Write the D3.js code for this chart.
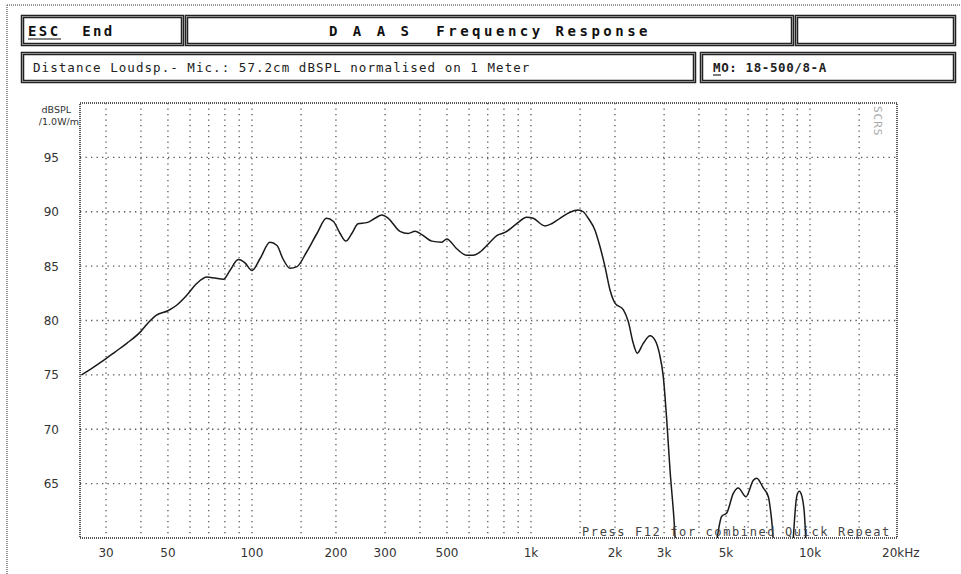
<!DOCTYPE html>
<html>
<head>
<meta charset="utf-8">
<script src="https://cdn.jsdelivr.net/npm/d3@7"></script>
<style>
  body { margin: 0; background: #fff; }
  svg text { white-space: pre; }
</style>
</head>
<body>
<div id="chart"></div>
<script>
const freqs = [24.5, 27, 30, 32.3, 35.6, 40, 42.5, 45.5, 50, 53.7, 58.3, 63.4, 69, 73.7, 79, 83.4, 89.3, 94.4, 100,
  107, 116, 123, 129, 137, 145, 157, 171, 185, 196, 207, 217, 228, 240, 258, 276, 292, 308, 339, 363, 384, 406,
  441, 479, 499, 542, 588, 621, 657, 713, 754, 807, 889, 965, 1019, 1122, 1186, 1270, 1380, 1477, 1540, 1605,
  1696, 1767, 1842, 1920, 2000, 2142, 2232, 2326, 2404, 2526, 2671, 2783, 2884, 2981, 3065, 3149, 3236, 3370,
  4400, 4827, 5030, 5310, 5534, 5896, 6264, 6442, 6800, 7090, 7290, 7550, 8480, 8960, 9150, 9340, 9520, 9840, 20500];
const spl = [75.0, 75.7, 76.5, 77.1, 77.9, 79.0, 79.8, 80.5, 80.9, 81.4, 82.3, 83.4, 84.0, 83.9, 83.8, 84.6, 85.6, 85.3, 84.6,
  85.7, 87.2, 86.9, 85.7, 84.8, 84.95, 86.3, 88.0, 89.4, 89.1, 88.0, 87.3, 88.0, 88.9, 89.0, 89.4, 89.7, 89.4, 88.2, 88.0, 88.2, 87.9,
  87.3, 87.2, 87.5, 86.6, 86.0, 86.0, 86.3, 87.2, 87.8, 88.1, 88.9, 89.5, 89.4, 88.7, 88.9, 89.4, 89.95, 90.16, 90.0, 89.4,
  88.3, 86.8, 84.95, 82.8, 81.6, 81.0, 79.9, 77.9, 77.0, 77.9, 78.6, 78.2, 77.0, 74.8, 70.9, 66.3, 62.6, 57,
  57, 62.0, 62.3, 64.1, 64.6, 63.8, 65.3, 65.5, 64.6, 63.8, 61.6, 57, 57, 63.8, 64.3, 63.9, 62.6, 57, 57];

const gridFreqs = [30, 40, 50, 60, 70, 80, 90, 100, 150, 200, 300, 400, 500, 600, 700, 800, 900,
  1000, 1500, 2000, 3000, 4000, 5000, 6000, 7000, 8000, 9000, 10000, 15000];
const xTicks = [30, 50, 100, 200, 300, 500, 1000, 2000, 3000, 5000, 10000, 20000];
const xTickLabels = ["30", "50", "100", "200", "300", "500", "1k", "2k", "3k", "5k", "10k", "20kHz"];
const yTicks = [65, 70, 75, 80, 85, 90, 95];

const W = 961, H = 574;
const mono = "'DejaVu Sans Mono', 'Liberation Mono', monospace";

const svg = d3.select("#chart").append("svg")
  .attr("width", W).attr("height", H);

// outer dotted frame
svg.append("line").attr("x1", 7).attr("x2", W).attr("y1", 5).attr("y2", 5)
  .attr("stroke", "#777").attr("stroke-width", 1.5).attr("stroke-dasharray", "1,1");
svg.append("line").attr("x1", 7).attr("x2", 7).attr("y1", 5).attr("y2", H)
  .attr("stroke", "#777").attr("stroke-width", 1.5).attr("stroke-dasharray", "1,1");

// header boxes with double border
function box(x0, y0, x1, y1) {
  svg.append("rect").attr("x", x0 + 1.5).attr("y", y0 + 1.5)
    .attr("width", x1 - x0 - 3).attr("height", y1 - y0 - 3)
    .attr("fill", "#fff").attr("stroke", "#222").attr("stroke-width", 3.5);
  svg.append("rect").attr("x", x0 + 1.5).attr("y", y0 + 1.5)
    .attr("width", x1 - x0 - 3).attr("height", y1 - y0 - 3)
    .attr("fill", "none").attr("stroke", "#aaa").attr("stroke-width", 0.8);
}
box(21, 15, 184, 46);
box(185, 15, 794, 46);
box(795, 15, 956, 46);
box(21, 52, 696, 83);
box(700, 52, 956, 83);

svg.append("text").attr("x", 28).attr("y", 36)
  .attr("font-family", mono).attr("font-weight", "bold").attr("font-size", 14)
  .attr("letter-spacing", 2.4).attr("fill", "#111")
  .text("ESC  End");
svg.append("line").attr("x1", 28).attr("x2", 61).attr("y1", 39).attr("y2", 39)
  .attr("stroke", "#111").attr("stroke-width", 1.2);

svg.append("text").attr("x", 490).attr("y", 36).attr("text-anchor", "middle")
  .attr("font-family", mono).attr("font-weight", "bold").attr("font-size", 14)
  .attr("letter-spacing", 3.5).attr("fill", "#111")
  .text("D A A S  Frequency Response");

svg.append("text").attr("x", 33).attr("y", 72)
  .attr("font-family", mono).attr("font-size", 12.5)
  .attr("letter-spacing", 1.05).attr("fill", "#222")
  .text("Distance Loudsp.- Mic.: 57.2cm dBSPL normalised on 1 Meter");

svg.append("text").attr("x", 713).attr("y", 72)
  .attr("font-family", mono).attr("font-weight", "bold").attr("font-size", 12.5)
  .attr("letter-spacing", 0.6).attr("fill", "#222")
  .text("MO: 18-500/8-A");
svg.append("line").attr("x1", 713).attr("x2", 721).attr("y1", 75).attr("y2", 75)
  .attr("stroke", "#222").attr("stroke-width", 1.2);

// plot area
const pL = 80, pR = 897, pT = 103, pB = 538;
const x = d3.scaleLog().domain([24.2, 20500]).range([pL, pR]);
const y = d3.scaleLinear().domain([60, 100]).range([pB, pT]);

const grid = svg.append("g").attr("stroke", "#555").attr("stroke-width", 1.3)
  .attr("stroke-dasharray", "1.3,4.2");
grid.selectAll("line.v").data(gridFreqs).enter().append("line")
  .attr("x1", d => x(d)).attr("x2", d => x(d))
  .attr("y1", pT).attr("y2", pB);
grid.selectAll("line.h").data(yTicks).enter().append("line")
  .attr("x1", pL).attr("x2", pR)
  .attr("y1", d => y(d)).attr("y2", d => y(d));

// y tick labels
svg.selectAll("text.yt").data(yTicks).enter().append("text")
  .attr("x", 59).attr("y", d => y(d) + 4.5).attr("text-anchor", "end")
  .attr("font-family", "'DejaVu Sans', sans-serif").attr("font-size", 12).attr("fill", "#333")
  .text(d => d);

svg.append("text").attr("x", 71).attr("y", 113).attr("text-anchor", "end")
  .attr("font-family", "'DejaVu Sans', sans-serif").attr("font-size", 9.5).attr("fill", "#333")
  .text("dBSPL");
svg.append("text").attr("x", 79).attr("y", 125).attr("text-anchor", "end")
  .attr("font-family", "'DejaVu Sans', sans-serif").attr("font-size", 9.5).attr("fill", "#333")
  .text("/1.0W/m");

// x tick labels
svg.selectAll("text.xt").data(xTicks).enter().append("text")
  .attr("x", (d, i) => i === xTicks.length - 1 ? x(d) - 12 : x(d))
  .attr("y", 557)
  .attr("text-anchor", (d, i) => i === xTicks.length - 1 ? "start" : "middle")
  .attr("font-family", "'DejaVu Sans', sans-serif").attr("font-size", 12).attr("fill", "#333")
  .text((d, i) => xTickLabels[i]);

// curve
svg.append("clipPath").attr("id", "plotclip").append("rect")
  .attr("x", pL).attr("y", pT).attr("width", pR - pL).attr("height", pB - pT);

const pts = freqs.map((f, i) => ({ f: f, v: spl[i] }));
const line = d3.line()
  .x(d => x(d.f))
  .y(d => y(d.v))
  .curve(d3.curveMonotoneX);

svg.append("path").datum(pts)
  .attr("clip-path", "url(#plotclip)")
  .attr("d", line)
  .attr("fill", "none")
  .attr("stroke", "#1a1a1a")
  .attr("stroke-width", 1.5);

// plot border
svg.append("rect").attr("x", pL).attr("y", pT)
  .attr("width", pR - pL).attr("height", pB - pT)
  .attr("fill", "none").attr("stroke", "#555").attr("stroke-width", 2)
  .attr("stroke-dasharray", "1,1");

// corner marker and footer hint
svg.append("text")
  .attr("transform", "translate(874,106) rotate(90)")
  .attr("font-family", mono).attr("font-size", 11).attr("fill", "#aaa")
  .attr("letter-spacing", 1)
  .text("SCRS");

svg.append("text").attr("x", 582).attr("y", 536)
  .attr("font-family", mono).attr("font-size", 12)
  .attr("letter-spacing", 1.6).attr("fill", "#444")
  .text("Press F12 for combined Quick Repeat");
</script>
</body>
</html>
